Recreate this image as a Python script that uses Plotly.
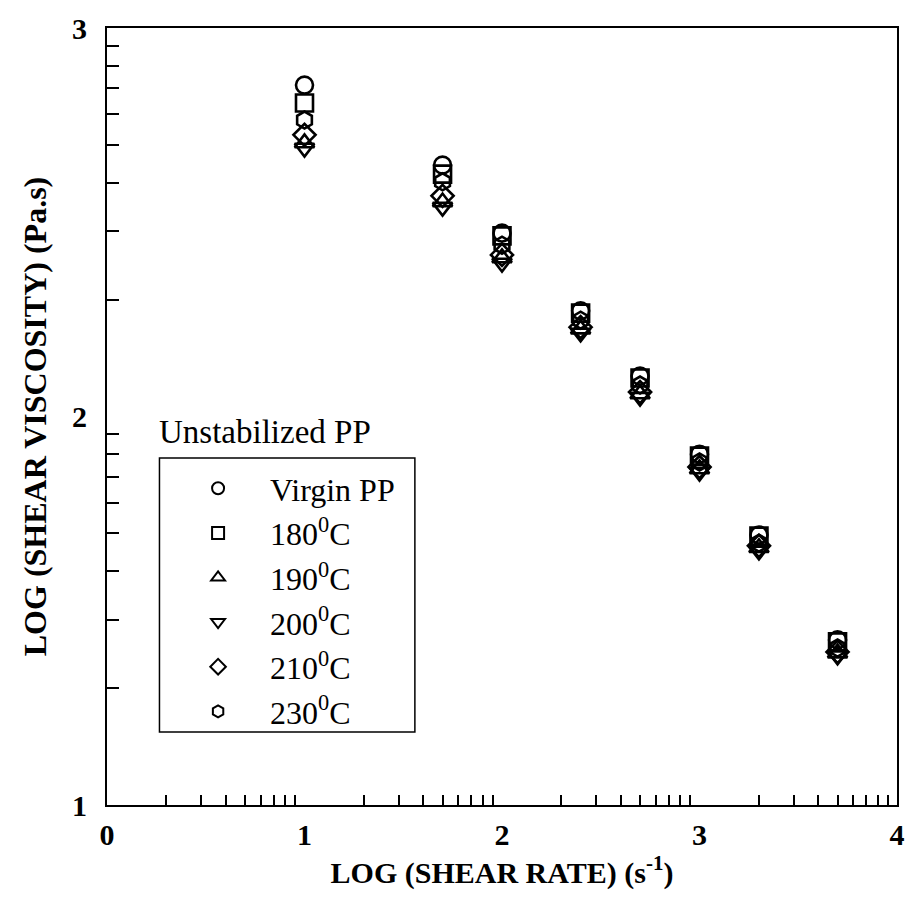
import numpy as np
import plotly.graph_objects as go

# ---- data ----
log_shear_rate = [1.0, 1.699, 2.0, 2.398, 2.699, 3.0, 3.301, 3.699]
series_names = ["Virgin PP", "180<sup>0</sup>C", "190<sup>0</sup>C",
                "200<sup>0</sup>C", "210<sup>0</sup>C", "230<sup>0</sup>C"]
virgin_pp = [2.853, 2.647, 2.472, 2.272, 2.104, 1.903, 1.695, 1.425]
pp_180 = [2.807, 2.624, 2.465, 2.266, 2.099, 1.898, 1.692, 1.420]
pp_190 = [2.704, 2.552, 2.408, 2.225, 2.058, 1.865, 1.662, 1.391]
pp_200 = [2.691, 2.539, 2.395, 2.215, 2.050, 1.857, 1.654, 1.384]
pp_210 = [2.725, 2.568, 2.416, 2.230, 2.063, 1.870, 1.667, 1.394]
pp_230 = [2.763, 2.604, 2.441, 2.248, 2.081, 1.883, 1.674, 1.404]
series_values = [virgin_pp, pp_180, pp_190, pp_200, pp_210, pp_230]
symbols = ["circle-open", "square-open", "triangle-up-open",
           "triangle-down-open", "diamond-open", "hexagon-open"]
x_ticks = [0, 1, 2, 3, 4]
y_ticks = [1, 2, 3]

x_minor = [n + np.log10(k) for n in range(0, 4) for k in range(2, 10)]
y_minor = [n + np.log10(k) for n in range(1, 3) for k in range(2, 10)]

SERIF = "Liberation Serif, Times New Roman, serif"
PAD = "\u00a0" * 4

fig = go.Figure()
for i, (name, vals, sym) in enumerate(zip(series_names, series_values, symbols)):
    fig.add_trace(go.Scatter(
        x=log_shear_rate, y=vals, mode="markers", name=PAD + name,
        legendgroup=f"g{i}",
        marker=dict(symbol=sym, size=17, color="black",
                    line=dict(color="black", width=2.6)),
    ))

W, H = 915, 923
ml, mr, mt, mb = 107, 10, 28, 118
pw, ph = W - ml - mr, H - mt - mb

def px_x(p):
    return (p - ml) / pw

def px_y(p):
    return (H - mb - p) / ph

fig.update_layout(
    width=W, height=H,
    margin=dict(l=ml, r=mr, t=mt, b=mb, pad=0),
    paper_bgcolor="white", plot_bgcolor="white",
    font=dict(family=SERIF, color="black"),
    showlegend=True,
    legend=dict(
        x=px_x(199), y=px_y(461), xanchor="left", yanchor="top",
        bgcolor="rgba(0,0,0,0)", borderwidth=0,
        font=dict(family=SERIF, size=32, color="black"),
        itemsizing="constant", tracegroupgap=0,
    ),
    shapes=[dict(type="rect", xref="paper", yref="paper",
                 x0=px_x(160), x1=px_x(418), y0=px_y(732), y1=px_y(458),
                 line=dict(color="black", width=1.5))],
    annotations=[dict(text="Unstabilized PP", xref="paper", yref="paper",
                      x=px_x(158), y=px_y(432), xanchor="left", yanchor="middle",
                      showarrow=False,
                      font=dict(family=SERIF, size=33, color="black"))],
)

fig.update_xaxes(
    range=[0, 4], tickvals=x_ticks, ticktext=[str(v) for v in x_ticks],
    ticks="", showgrid=False, zeroline=False,
    showline=True, linecolor="black", linewidth=2, mirror=True,
    tickfont=dict(family=SERIF, size=30, color="black", weight="bold"),
    ticklabelstandoff=2,
    minor=dict(tickmode="array", tickvals=x_minor, ticks="inside",
               ticklen=10, tickwidth=1.5, tickcolor="black", showgrid=False),
    title=dict(text="LOG (SHEAR RATE) (s<sup>-1</sup>)", standoff=2,
               font=dict(family=SERIF, size=30, color="black", weight="bold")),
)
fig.update_yaxes(
    range=[1, 3], tickvals=y_ticks, ticktext=[str(v) for v in y_ticks],
    ticks="", showgrid=False, zeroline=False,
    showline=True, linecolor="black", linewidth=2, mirror=True,
    tickfont=dict(family=SERIF, size=30, color="black", weight="bold"),
    ticklabelstandoff=12,
    minor=dict(tickmode="array", tickvals=y_minor, ticks="inside",
               ticklen=12, tickwidth=1.5, tickcolor="black", showgrid=False),
    title=dict(text="LOG (SHEAR VISCOSITY) (Pa.s)", standoff=16,
               font=dict(family=SERIF, size=32, color="black", weight="bold")),
)

fig.write_html("out.html")
